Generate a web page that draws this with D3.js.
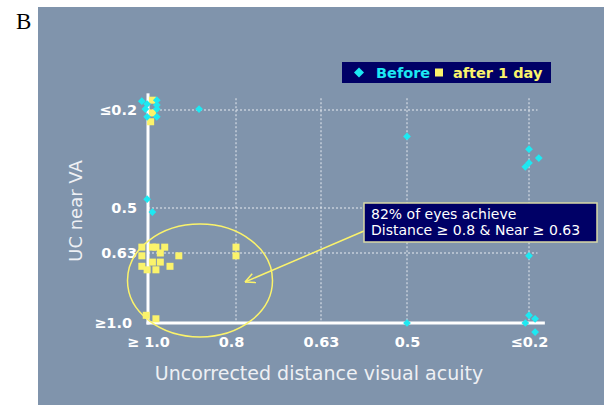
<!DOCTYPE html>
<html>
<head>
<meta charset="utf-8">
<script src="https://cdn.jsdelivr.net/npm/d3@7"></script>
<style>
  body { margin: 0; background: #fff; }
  svg text { font-family: "DejaVu Sans", Verdana, sans-serif; }
</style>
</head>
<body>
<div id="chart"></div>
<script>
// tick labels (index positions along each axis)
var xLabels = ["\u2265 1.0", "0.8", "0.63", "0.5", "\u22640.2"];
var yLabels = ["\u22651.0", "0.63", "0.5", "\u22640.2"];

// points, in axis-index units (jitter)
var beforeX = [-0.07, 0.10, -0.01, 0.10, -0.03, 0.10, -0.01, 0.10, 0.58, -0.01, 0.05,
               3.00, 4.00, 4.08, 4.00, 3.97, 4.00, 3.00, 4.00, 4.05, 3.97, 4.05];
var beforeY = [3.09, 3.10, 3.06, 3.05, 3.01, 3.01, 2.93, 2.93, 3.01, 2.09, 1.91,
               2.73, 2.60, 2.51, 2.46, 2.42, 0.96, 0.00, 0.11, 0.06, 0.00, -0.13];

var afterX = [0.05, 0.05, 0.03, -0.07, 0.05, 0.09, 0.19, -0.07, 0.14, 0.14, 0.05,
              0.35, -0.07, -0.01, 0.09, 0.25, 1.00, 1.00, -0.02, 0.09];
var afterY = [3.10, 2.97, 2.88, 1.13, 1.13, 1.13, 1.13, 0.96, 1.00, 0.87, 0.87,
              0.96, 0.81, 0.76, 0.76, 0.81, 1.13, 0.96, 0.11, 0.06];

var before = beforeX.map(function(d, i) { return {x: d, y: beforeY[i]}; });
var after = afterX.map(function(d, i) { return {x: d, y: afterY[i]}; });

var W = 604, H = 405;
var cyan = "#1de9f2", yellow = "#fbf36b";

var svg = d3.select("#chart").append("svg")
    .attr("width", W)
    .attr("height", H);

// panel
svg.append("rect")
    .attr("x", 38).attr("y", 7)
    .attr("width", W - 38).attr("height", H - 7)
    .attr("fill", "#8094ac");

svg.append("text")
    .attr("x", 16).attr("y", 29)
    .style("font-family", "'Liberation Serif', 'Times New Roman', serif")
    .style("font-size", "23px")
    .attr("fill", "#000")
    .text("B");

// piecewise scales: the categories are not evenly spaced
var xScale = d3.scaleLinear()
    .domain([0, 1, 2, 3, 4])
    .range([148, 236, 321, 407, 529]);

var yScale = d3.scaleLinear()
    .domain([0, 1, 2, 3])
    .range([323, 253, 208, 110]);

//dotted grid
svg.selectAll(".vgrid")
    .data([1, 2, 3, 4])
    .enter().append("line")
    .attr("x1", function(d) { return xScale(d); })
    .attr("x2", function(d) { return xScale(d); })
    .attr("y1", yScale(3.12))
    .attr("y2", yScale(0))
    .attr("stroke", "#e6eaf0")
    .attr("stroke-width", 1)
    .attr("stroke-dasharray", "2,2");

svg.selectAll(".hgrid")
    .data([1, 2, 3])
    .enter().append("line")
    .attr("x1", xScale(0))
    .attr("x2", xScale(4.07))
    .attr("y1", function(d) { return yScale(d); })
    .attr("y2", function(d) { return yScale(d); })
    .attr("stroke", "#e6eaf0")
    .attr("stroke-width", 1)
    .attr("stroke-dasharray", "2,2");

// axes (labels only, lines drawn below)
var gx = svg.append("g")
    .attr("transform", "translate(0," + yScale(0) + ")")
    .call(d3.axisBottom(xScale)
        .tickValues([0, 1, 2, 3, 4])
        .tickFormat(function(d) { return xLabels[d]; })
        .tickSize(0)
        .tickPadding(14));

var gy = svg.append("g")
    .attr("transform", "translate(" + xScale(0) + ",0)")
    .call(d3.axisLeft(yScale)
        .tickValues([0, 1, 2, 3])
        .tickFormat(function(d) { return yLabels[d]; })
        .tickSize(0)
        .tickPadding(11));

[gx, gy].forEach(function(g) {
    g.select(".domain").remove();
    g.selectAll("text")
        .attr("fill", "#fff")
        .style("font-family", "'DejaVu Sans', Verdana, sans-serif")
        .style("font-size", "14.5px")
        .style("font-weight", "bold");
});
gx.selectAll("text").attr("dx", function(d, i) { return i == 1 ? "-5" : "0"; });
gy.selectAll("text").attr("dx", function(d) { return d == 0 ? "-5" : "0"; });

// axis lines
svg.append("line")
    .attr("x1", xScale(0)).attr("x2", xScale(0))
    .attr("y1", yScale(3.17)).attr("y2", yScale(0) + 1.5)
    .attr("stroke", "#fff").attr("stroke-width", 3);
svg.append("line")
    .attr("x1", xScale(0) - 1.5).attr("x2", xScale(4.13))
    .attr("y1", yScale(0)).attr("y2", yScale(0))
    .attr("stroke", "#fff").attr("stroke-width", 3);

// axis titles
svg.append("text")
    .attr("transform", "translate(82,211) rotate(-90)")
    .style("text-anchor", "middle")
    .style("font-size", "18px")
    .attr("fill", "#eef0f4")
    .text("UC near VA");

svg.append("text")
    .attr("x", 319).attr("y", 380)
    .style("text-anchor", "middle")
    .style("font-size", "19px")
    .attr("fill", "#eef0f4")
    .text("Uncorrected distance visual acuity");

// ellipse highlight
svg.append("ellipse")
    .attr("cx", 200).attr("cy", 280.5)
    .attr("rx", 72.5).attr("ry", 56.5)
    .attr("fill", "none")
    .attr("stroke", yellow)
    .attr("stroke-width", 1.5);

// data points
var sq = 7;
svg.selectAll(".after")
    .data(after)
    .enter().append("rect")
    .attr("x", function(d) { return xScale(d.x) - sq / 2; })
    .attr("y", function(d) { return yScale(d.y) - sq / 2; })
    .attr("width", sq).attr("height", sq)
    .attr("fill", yellow);

var diamond = d3.symbol().type(d3.symbolSquare).size(30);
svg.selectAll(".before")
    .data(before)
    .enter().append("path")
    .attr("d", diamond)
    .attr("transform", function(d) { return "translate(" + xScale(d.x) + "," + yScale(d.y) + ") rotate(45)"; })
    .attr("fill", cyan);

// arrow from callout to ellipse
var ax1 = 364, ay1 = 231, ax2 = 245, ay2 = 282;
svg.append("line")
    .attr("x1", ax1).attr("y1", ay1)
    .attr("x2", ax2).attr("y2", ay2)
    .attr("stroke", yellow).attr("stroke-width", 1.5);
var ang = Math.atan2(ay1 - ay2, ax1 - ax2);
[0.45, -0.45].forEach(function(a) {
    svg.append("line")
        .attr("x1", ax2).attr("y1", ay2)
        .attr("x2", ax2 + 11 * Math.cos(ang + a))
        .attr("y2", ay2 + 11 * Math.sin(ang + a))
        .attr("stroke", yellow).attr("stroke-width", 1.5);
});

// callout
svg.append("rect")
    .attr("x", 364).attr("y", 203)
    .attr("width", 233).attr("height", 39)
    .attr("fill", "#000066")
    .attr("stroke", "#d9d9a6")
    .attr("stroke-width", 1.5);
svg.append("text")
    .attr("x", 371).attr("y", 219)
    .style("font-size", "14px")
    .attr("fill", "#fff")
    .text("82% of eyes achieve");
svg.append("text")
    .attr("x", 371).attr("y", 235)
    .style("font-size", "14px")
    .attr("fill", "#fff")
    .text("Distance \u2265 0.8 & Near \u2265 0.63");

// legend
svg.append("rect")
    .attr("x", 342).attr("y", 62)
    .attr("width", 209).attr("height", 21)
    .attr("fill", "#000066");
svg.append("path")
    .attr("d", d3.symbol().type(d3.symbolSquare).size(50))
    .attr("transform", "translate(359,72.5) rotate(45)")
    .attr("fill", cyan);
svg.append("text")
    .attr("x", 376).attr("y", 78)
    .style("font-size", "14.5px").style("font-weight", "bold")
    .attr("fill", cyan)
    .text("Before");
svg.append("rect")
    .attr("x", 435).attr("y", 68.5)
    .attr("width", 8).attr("height", 8)
    .attr("fill", yellow);
svg.append("text")
    .attr("x", 453).attr("y", 78)
    .style("font-size", "14.5px").style("font-weight", "bold")
    .attr("fill", yellow)
    .text("after 1 day");
</script>
</body>
</html>
